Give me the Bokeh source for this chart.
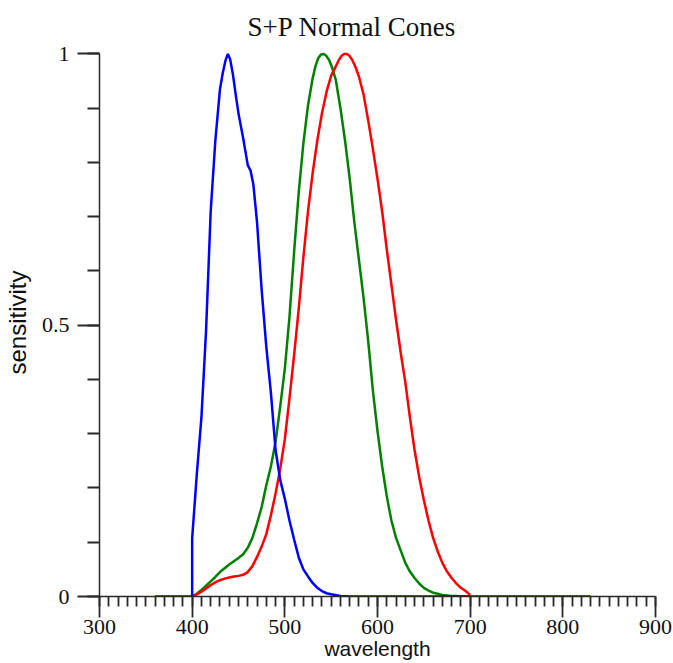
from bokeh.plotting import figure
from bokeh.models import Range1d, SingleIntervalTicker, CustomJSTickFormatter
from bokeh.embed import file_html
from bokeh.resources import INLINE

# ---- data ----
title_text = "S+P Normal Cones"
x_label = "wavelength"
y_label = "sensitivity"

# S cone (blue)
s_wl = [360, 395, 400, 400, 405, 410, 415, 420, 425, 430, 433, 436, 438.5, 441, 444, 447, 450, 455,
        460, 463, 466, 470, 475, 480, 485, 490, 495, 500, 505, 510, 515, 520, 525,
        530, 535, 540, 545, 550, 560, 570, 830]
s_val = [0, 0, 0, 0.107, 0.225, 0.33, 0.49, 0.71, 0.84, 0.935, 0.965, 0.988, 1.0, 0.99, 0.962, 0.925, 0.89, 0.845,
         0.795, 0.785, 0.76, 0.69, 0.565, 0.46, 0.375, 0.27, 0.215, 0.18, 0.14, 0.105, 0.072, 0.05, 0.037,
         0.025, 0.016, 0.01, 0.006, 0.004, 0.001, 0, 0]

# M cone (green)
m_wl = [400, 405, 410, 415, 420, 425, 430, 435, 440, 445, 450, 455, 460, 465, 470,
        475, 480, 485, 490, 495, 500, 505, 510, 515, 520, 525, 530, 533, 536, 539, 542, 545,
        548, 551, 555, 560, 565, 570, 575, 580, 585, 590, 595, 600, 605, 610, 615, 620,
        625, 630, 635, 640, 645, 650, 655, 660, 665, 670, 675, 680, 685, 690, 695, 700]
m_val = [0, 0.005, 0.012, 0.02, 0.028, 0.036, 0.045, 0.052, 0.059, 0.065, 0.071, 0.078, 0.09, 0.108, 0.135,
         0.165, 0.205, 0.24, 0.285, 0.35, 0.42, 0.515, 0.635, 0.745, 0.835, 0.905, 0.955, 0.977, 0.992, 0.999, 1.0, 0.996,
         0.988, 0.975, 0.952, 0.9, 0.84, 0.77, 0.69, 0.62, 0.55, 0.47, 0.38, 0.305, 0.24, 0.185, 0.14, 0.108,
         0.085, 0.062, 0.046, 0.034, 0.024, 0.016, 0.011, 0.007, 0.005, 0.003, 0.002, 0.001, 0.001, 0, 0, 0]

# L cone (red)
l_wl = [400, 405, 410, 415, 420, 425, 430, 435, 440, 445, 450, 455, 460, 465, 470,
        475, 480, 485, 490, 495, 500, 505, 510, 515, 520, 525, 530, 535, 540, 545,
        550, 555, 558, 561, 564, 567, 570, 573, 576, 580, 585, 590, 595, 600, 605, 610, 615, 620,
        625, 630, 635, 640, 645, 650, 655, 660, 665, 670, 675, 680, 685, 690, 695, 700]
l_val = [0, 0.004, 0.009, 0.015, 0.021, 0.026, 0.03, 0.033, 0.035, 0.037, 0.038, 0.04, 0.045, 0.056, 0.073,
         0.092, 0.115, 0.15, 0.19, 0.235, 0.29, 0.365, 0.445, 0.53, 0.625, 0.71, 0.78, 0.84, 0.89, 0.93,
         0.96, 0.977, 0.988, 0.996, 1.0, 1.0, 0.996, 0.988, 0.977, 0.958, 0.925, 0.877, 0.825, 0.77, 0.71, 0.64, 0.575, 0.51,
         0.45, 0.395, 0.33, 0.27, 0.22, 0.178, 0.14, 0.108, 0.083, 0.062, 0.046, 0.034, 0.024, 0.016, 0.01, 0.003]

x_start, x_end, x_step = 300, 900, 100
y_start, y_end, y_step = 0, 1, 0.5

# ---- figure ----
p = figure(width=673, height=663, output_backend="svg", toolbar_location=None,
           x_range=Range1d(x_start, x_end), y_range=Range1d(y_start, 1.01),
           min_border_left=97, min_border_right=18, min_border_top=48, min_border_bottom=67,
           title=title_text)
p.background_fill_color = "white"
p.border_fill_color = "white"
p.outline_line_color = None
p.xgrid.visible = False
p.ygrid.visible = False

p.title.text_font = "Liberation Serif"
p.title.text_font_size = "27px"
p.title.text_font_style = "normal"
p.title.text_color = "#111111"
p.title.align = "left"
p.title.offset = 148
p.title.standoff = 14

axis_color = "#2a2a2a"
for ax in (p.xaxis[0], p.yaxis[0]):
    ax.axis_line_color = axis_color
    ax.axis_line_width = 1.5
    ax.major_tick_line_color = axis_color
    ax.major_tick_line_width = 1.8
    ax.minor_tick_line_color = axis_color
    ax.minor_tick_line_width = 1.8
    ax.major_tick_in = 0
    ax.minor_tick_in = 0
    ax.major_label_text_font = "Liberation Serif"
    ax.major_label_text_font_size = "22px"
    ax.major_label_text_color = "#111111"
    ax.axis_label_text_font = "Liberation Sans"
    ax.axis_label_text_font_style = "normal"
    ax.axis_label_text_color = "#111111"

xa = p.xaxis[0]
xa.ticker = SingleIntervalTicker(interval=x_step, num_minor_ticks=10)
xa.major_tick_out = 21
xa.minor_tick_out = 10
xa.major_label_standoff = 2
xa.axis_label = x_label
xa.axis_label_standoff = 0
xa.axis_label_text_font_size = "21px"

ya = p.yaxis[0]
ya.ticker = SingleIntervalTicker(interval=y_step, num_minor_ticks=5)
ya.bounds = (y_start, y_end)
ya.major_tick_out = 22
ya.minor_tick_out = 12
ya.major_label_standoff = 8
ya.formatter = CustomJSTickFormatter(code="return String(Math.round(tick*10)/10);")
ya.axis_label = y_label
ya.axis_label_standoff = 8
ya.axis_label_text_font_size = "24px"

p.line(m_wl, m_val, line_color="#008000", line_width=2.5)
p.line(l_wl, l_val, line_color="#ff0000", line_width=2.5)
p.line(s_wl, s_val, line_color="#0000ff", line_width=2.5)

open("out.html", "w").write(file_html(p, INLINE))
